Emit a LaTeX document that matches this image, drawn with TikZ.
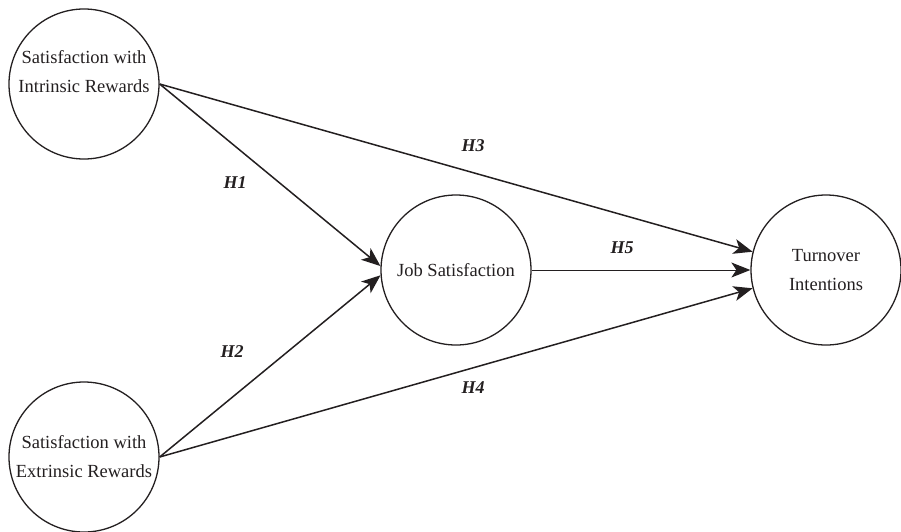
\documentclass[tikz,border=0pt]{standalone}
\usepackage{fontspec}
\setmainfont{Liberation Serif}
\usetikzlibrary{arrows.meta}
\definecolor{ink}{HTML}{231F20}

\begin{document}
\begin{tikzpicture}[
		x=1pt, y=-1pt,
		var/.style={draw=ink, circle, line width=1.3pt, minimum size=150pt, inner sep=0pt,
			align=center, text=ink, font=\fontsize{18.5}{29}\selectfont},
		txt/.style={align=center, text=ink, font=\fontsize{18.5}{29}\selectfont},
		hyp/.style={text=ink, font=\fontsize{18}{22}\selectfont\bfseries\itshape},
		path/.style={draw=ink, -{Stealth[length=19pt, width=15pt, inset=5pt]}, line width=1.5pt},
		>=Stealth
	]
	% page frame in pixels of the reference, y running down
	\useasboundingbox (0,0) rectangle (901,531);

	% the four constructs
	\node[var] (sir) at (84,84) {};
	\node[txt] (sirlab) at (84,72) {Satisfaction with\\Intrinsic Rewards};
	\node[var] (ser) at (84,457) {Satisfaction with\\Extrinsic Rewards};
	\node[var] (js) at (456,270) {Job Satisfaction};
	\node[var] (ti) at (826,270) {Turnover\\Intentions};

	% hypothesised paths
	\draw[path] (sir.east) -- (js.177);
	\draw[path] (ser.east) -- (js.184);
	\draw[path] (sir.east) -- (ti.166);
	\draw[path] (ser.east) -- (ti.194);
	\draw[path, line width=1pt] (js.east) -- (ti.west);

	\node[hyp] (h1) at (235,183) {H1};
	\node[hyp] (h2) at (232,352) {H2};
	\node[hyp] (h3) at (473,146) {H3};
	\node[hyp] (h4) at (473,388) {H4};
	\node[hyp] (h5) at (622,248) {H5};
\end{tikzpicture}
\end{document}
